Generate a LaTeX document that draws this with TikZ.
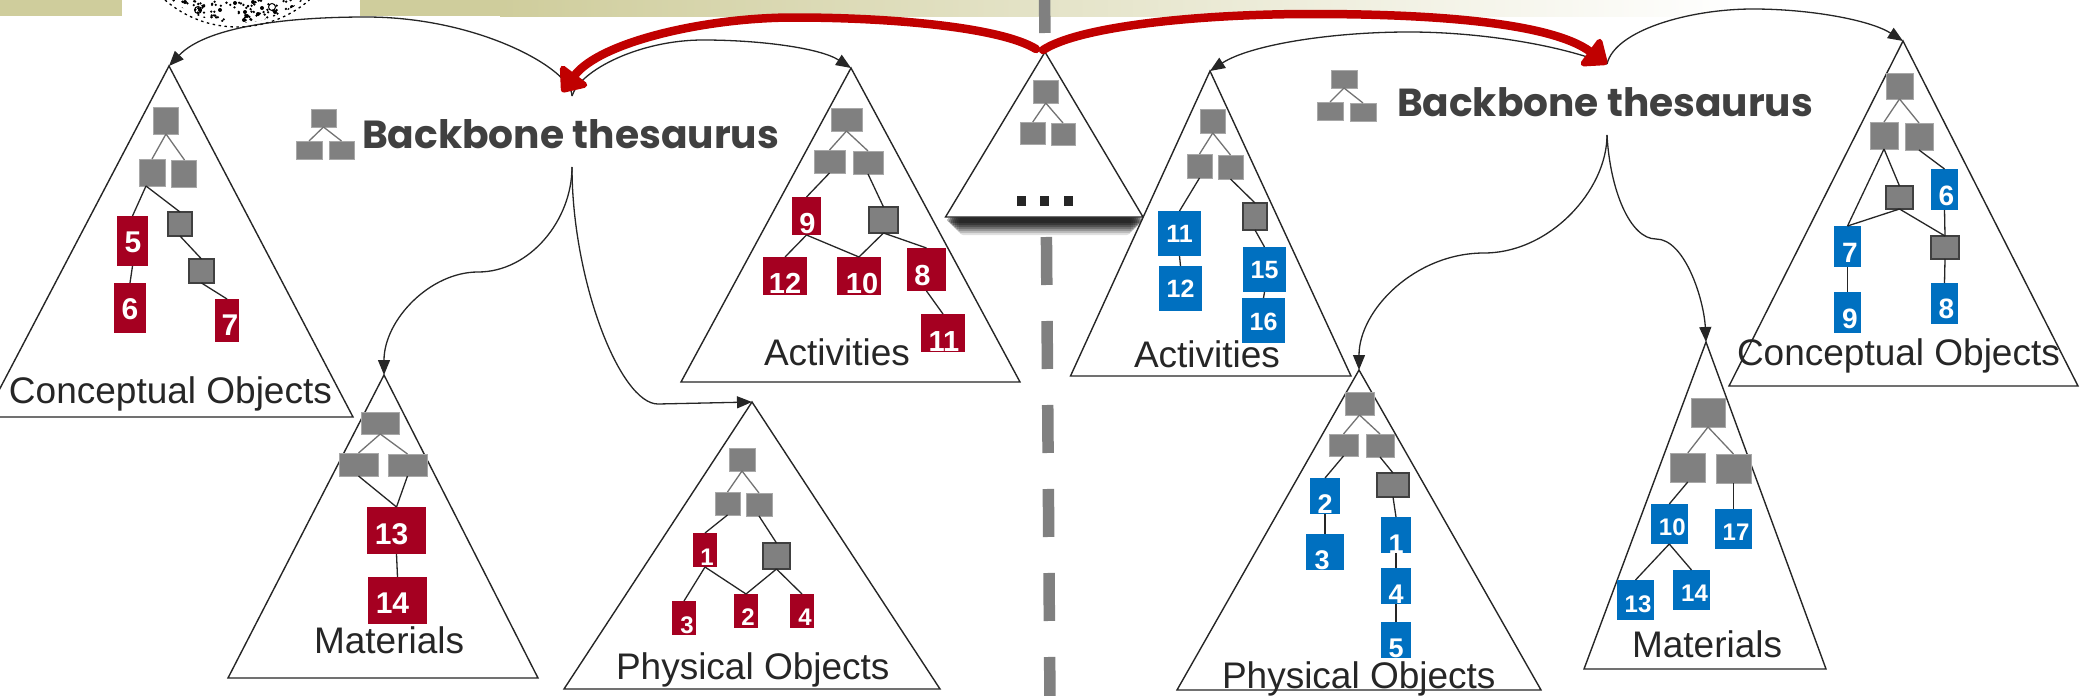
\documentclass[tikz,border=0pt]{standalone}
\usepackage{fontspec}
\setmainfont{Liberation Sans}
\newfontfamily\bbfont{Poppins}
\usetikzlibrary{arrows.meta,calc}
\definecolor{bandc}{HTML}{CFCD9C}
\definecolor{inkc}{HTML}{262626}
\definecolor{greyc}{HTML}{808080}
\definecolor{greyl}{HTML}{A8A8A8}
\definecolor{darkb}{HTML}{404040}
\definecolor{redb}{HTML}{A50021}
\definecolor{blueb}{HTML}{0070C0}
\definecolor{arrred}{HTML}{C00000}
\tikzset{
  tri/.style={draw=inkc,line width=1.4pt,fill=white,line join=miter},
  gbox/.style={fill=greyc,draw=greyl,line width=.6pt,inner sep=0pt,outer sep=0pt},
  dbox/.style={fill=greyc,draw=darkb,line width=1.4pt,inner sep=0pt,outer sep=0pt},
  rbox/.style={fill=redb,inner sep=0pt,outer sep=0pt,text=white},
  bbox/.style={fill=blueb,inner sep=0pt,outer sep=0pt,text=white},
  glink/.style={draw=greyc!90!black,line width=1.3pt},
  blink/.style={draw=inkc,line width=1.3pt},
  arr/.style={draw=inkc,line width=1.3pt,-{Triangle[length=15pt,width=12pt,fill=inkc]}},
  redarr/.style={draw=arrred,line width=8.5pt,line cap=round,-{Triangle[length=24pt,width=38pt,fill=arrred,round=false]}},
  lbl/.style={anchor=base west,inner sep=0pt,outer sep=0pt,text=inkc,font=\fontsize{37}{37}\selectfont},
  bbt/.style={anchor=base west,inner sep=0pt,outer sep=0pt,text=darkb}
}
\newcommand{\bxn}[7]{\pgfmathsetmacro\cxx{(#3+#5)/2}\pgfmathsetmacro\cyy{(#4+#6)/2}\pgfmathsetmacro\wdd{#5-#3}\pgfmathsetmacro\htt{#6-#4}\node[#1,minimum width=\wdd pt,minimum height=\htt pt] (#2) at (\cxx,\cyy) {#7};}
\newcommand{\dg}[4]{\makebox[0pt]{\hspace*{\dimexpr 2\dimexpr #2pt\relax\relax}\smash{\raisebox{#3pt}{\fontsize{#1}{#1}\selectfont\bfseries #4}}}}
\begin{document}
\begin{tikzpicture}[x=1pt,y=-1pt]
\useasboundingbox (0,0) rectangle (2080,696);
% band
\fill[bandc] (0,0) rectangle (122,16);
\fill[bandc] (360,0) rectangle (501,16);
\shade[left color=bandc,right color=white] (500,0) rectangle (1740,16);
% emblem
\draw[black,line width=1.3pt,dash pattern=on 2.5pt off 3.5pt] (165,0) arc[start angle=131,end angle=49,radius=110];
\begin{scope}
\clip (237,-83) circle[radius=106];
\pgfmathsetseed{11}
\foreach \en in {1,...,110}{
  \pgfmathsetmacro\ex{172+rnd*130}
  \pgfmathsetmacro\ey{rnd*25}
  \fill[black] (\ex,\ey) circle[radius=1.3];
}
\foreach \ex/\ey in {185/2,200/10,220/10,235/3,245/12,258/14,244/20,256/23,275/12,292/7,262/22,247/16,262/8,253/2}{
  \fill[black] (\ex,\ey) circle[radius=2];
}
\end{scope}
\draw[black,line width=1pt] (272,7) circle[radius=3.5];
\draw[black,line width=1pt] (198,10) circle[radius=3.5];
% dashed divider
\coordinate (dva) at (1044.5,-15);
\coordinate (dvb) at (1050,705);
\draw[greyc,line width=11.5pt,dash pattern=on 48pt off 36pt] (dva) -- (dvb);
% central triangle shadow
\foreach \sh/\op in {0/.12,2/.16,4/.2,6/.24,8/.28,10/.3,12/.3}{
  \fill[black,opacity=\op,rounded corners=4pt] (959-\sh,217) rectangle (1131+\sh,235-\sh);
}
% central triangle
\coordinate (t0a) at (1045,52);
\draw[tri,fill=white] (t0a) -- (945.5,217) -- (1143,217) -- cycle;
\bxn{gbox}{c0}{1033.5}{80}{1058}{103}{}
\bxn{gbox}{c1}{1020.5}{122}{1045}{144}{}
\bxn{gbox}{c2}{1051}{123}{1075}{145}{}
\draw[glink] (c0.south) -- (c1.north);
\draw[glink] (c0.south) -- (c2.north);
\fill[inkc] (1017,196) rectangle (1026,206);
\fill[inkc] (1040,196) rectangle (1049,206);
\fill[inkc] (1064,196) rectangle (1073,206);

% ---- T1 Conceptual Objects left
\coordinate (t1a) at (169,66);
\draw[tri] (t1a) -- (-15,417) -- (353,417) -- cycle;
\bxn{gbox}{a0}{153.5}{107}{178.5}{134}{}
\bxn{gbox}{a1}{139}{159}{165}{186}{}
\bxn{gbox}{a2}{171}{160}{196}{187}{}
\bxn{dbox}{a3}{168}{212}{192}{236}{}
\bxn{dbox}{a4}{189}{259}{214}{283}{}
\bxn{rbox}{a5}{117}{216}{148}{266}{\dg{30}{0.5}{-11}{5}}
\bxn{rbox}{a6}{114}{283}{146}{333}{\dg{30}{0}{-11}{6}}
\bxn{rbox}{a7}{215}{299}{239}{342}{\dg{30}{3}{-14.5}{7}}
\draw[glink] (a0.south) -- (a1.north);
\draw[glink] (a0.south) -- ([xshift=1pt]a2.north);
\draw[blink] ([xshift=-6pt]a1.south) -- (a5.north);
\draw[blink] ([xshift=-6pt]a1.south) -- (a3.north);
\draw[blink] (a5.south) -- (a6.north);
\draw[blink] (a3.south) -- (a4.north);
\draw[blink] (a4.south) -- (a7.north);
\node[lbl] (la) at (9,403) {Conceptual Objects};

% ---- T2 Materials left
\coordinate (t2a) at (384,375);
\draw[tri] (t2a) -- (228,678) -- (538,678) -- cycle;
\bxn{gbox}{b0}{361}{412}{399.5}{434}{}
\bxn{gbox}{b1}{339}{453}{378}{476}{}
\bxn{gbox}{b2}{388}{454}{427}{476}{}
\bxn{rbox}{b3}{367}{507}{426}{554}{\dg{30}{-5}{-13.5}{13}}
\bxn{rbox}{b4}{368}{577}{427}{624}{\dg{30}{-5}{-12.5}{14}}
\draw[glink] (b0.south) -- (b1.north);
\draw[glink] (b0.south) -- (b2.north);
\draw[blink] (b1.south) -- (b3.north);
\draw[blink] (b2.south) -- (b3.north);
\draw[blink] (b3.south) -- (b4.north);
\node[lbl] (lb) at (314,653) {Materials};

% ---- T3 Activities left
\coordinate (t3a) at (851,68);
\draw[tri] (t3a) -- (681,382) -- (1020,382) -- cycle;
\bxn{gbox}{d0}{831}{108}{862}{131}{}
\bxn{gbox}{d1}{814}{150}{845}{173}{}
\bxn{gbox}{d2}{853}{151}{883}{174}{}
\bxn{rbox}{d3}{792}{197}{821}{235}{\dg{29}{1}{-17}{9}}
\bxn{dbox}{d4}{869}{207}{898}{233}{}
\bxn{rbox}{d5}{763}{257}{807}{295}{\dg{29}{0}{-17}{12}}
\bxn{rbox}{d6}{837}{257}{881}{295}{\dg{29}{3}{-17}{10}}
\bxn{rbox}{d7}{907}{248}{946}{291}{\dg{29}{-4}{-15.5}{8}}
\bxn{rbox}{d8}{921}{314}{965}{352}{\dg{29}{1}{-18.5}{11}}
\draw[glink] (d0.south) -- (d1.north);
\draw[glink] (d0.south) -- (d2.north);
\draw[blink] (d1.south) -- (d3.north);
\draw[blink] (d2.south) -- (d4.north);
\draw[blink] (d3.south) -- (d5.north);
\draw[blink] (d3.south) -- (d6.north);
\draw[blink] (d4.south) -- (d6.north);
\draw[blink] (d4.south) -- (d7.north);
\draw[blink] (d7.south) -- (d8.north);
\node[lbl] (ld) at (764,365) {Activities};

% ---- T4 Activities right
\coordinate (t4a) at (1210,71);
\draw[tri] (t4a) -- (1070.5,376) -- (1351,376) -- cycle;
\bxn{gbox}{e0}{1200}{109}{1225.5}{133}{}
\bxn{gbox}{e1}{1187}{154}{1212}{178}{}
\bxn{gbox}{e2}{1218}{155}{1243}{179}{}
\bxn{bbox}{e3}{1158}{211}{1201}{256}{\dg{25}{0}{-8.5}{11}}
\bxn{bbox}{e4}{1159}{266}{1202}{311}{\dg{25}{0}{-8.5}{12}}
\bxn{dbox}{e5}{1243}{203}{1267}{230}{}
\bxn{bbox}{e6}{1243}{247}{1286}{292}{\dg{25}{0}{-9}{15}}
\bxn{bbox}{e7}{1242}{298}{1285}{343}{\dg{25}{0}{-9.5}{16}}
\draw[glink] (e0.south) -- (e1.north);
\draw[glink] (e0.south) -- (e2.north);
\draw[blink] (e1.south) -- (e3.north);
\draw[blink] (e2.south) -- (e5.north);
\draw[blink] (e3.south) -- (e4.north);
\draw[blink] (e5.south) -- (e6.north);
\draw[blink] (e6.south) -- (e7.north);
\node[lbl] (le) at (1134,367) {Activities};

% ---- T5 Physical Objects left
\coordinate (t5a) at (752,402);
\draw[tri] (t5a) -- (564,689) -- (940,689) -- cycle;
\bxn{gbox}{f0}{729}{448}{755}{471}{}
\bxn{gbox}{f1}{715}{492}{740}{515}{}
\bxn{gbox}{f2}{746}{493}{772}{516}{}
\bxn{rbox}{f3}{693}{533}{717}{567}{\dg{24}{2}{-15}{1}}
\bxn{dbox}{f4}{763}{543}{790}{569}{}
\bxn{rbox}{f5}{734}{594}{758}{628}{\dg{24}{2}{-14}{2}}
\bxn{rbox}{f6}{672}{601}{696}{635}{\dg{24}{3}{-15}{3}}
\bxn{rbox}{f7}{790}{594}{814}{628}{\dg{24}{3}{-14}{4}}
\draw[glink] (f0.south) -- (f1.north);
\draw[glink] (f0.south) -- (f2.north);
\draw[blink] (f1.south) -- (f3.north);
\draw[blink] (f2.south) -- (f4.north);
\draw[blink] (f3.south) -- (f6.north);
\draw[blink] (f3.south) -- (f5.north);
\draw[blink] (f4.south) -- (f5.north);
\draw[blink] (f4.south) -- (f7.north);
\node[lbl] (lf) at (616,679) {Physical Objects};

% ---- T6 Physical Objects right
\coordinate (t6a) at (1359,370);
\draw[tri] (t6a) -- (1177,690) -- (1541,690) -- cycle;
\bxn{gbox}{g0}{1345}{392}{1374}{415}{}
\bxn{gbox}{g1}{1329}{434}{1358}{456}{}
\bxn{gbox}{g2}{1366}{434}{1394}{457}{}
\bxn{dbox}{g3}{1377}{473}{1409}{497}{}
\bxn{bbox}{g4}{1310}{478}{1340}{514}{\dg{27}{0}{-17}{2}}
\bxn{bbox}{g5}{1306}{534}{1344}{570}{\dg{27}{-3}{-17}{3}}
\bxn{bbox}{g6}{1381}{517}{1411}{553}{\dg{27}{0}{-18}{1}}
\bxn{bbox}{g7}{1381}{568}{1411}{604}{\dg{27}{0}{-17}{4}}
\bxn{bbox}{g8}{1381}{622}{1411}{658}{\dg{27}{0}{-17}{5}}
\draw[glink] (g0.south) -- (g1.north);
\draw[glink] (g0.south) -- (g2.north);
\draw[blink] (g1.south) -- (g4.north);
\draw[blink] (g2.south) -- (g3.north);
\draw[blink] (g3.south) -- (g6.north);
\draw[blink] (g4.south) -- (g5.north);
\draw[blink] (g6.south) -- (g7.north);
\draw[blink] (g7.south) -- (g8.north);
\node[lbl] (lg) at (1222,688) {Physical Objects};

% ---- T7 Materials right
\coordinate (t7a) at (1706,342);
\draw[tri] (t7a) -- (1584,669) -- (1826,669) -- cycle;
\bxn{gbox}{h0}{1691}{398}{1725}{427}{}
\bxn{gbox}{h1}{1670.5}{453}{1705}{482}{}
\bxn{gbox}{h2}{1716}{454}{1751}{483}{}
\bxn{bbox}{h3}{1651}{504}{1687.5}{544}{\dg{24}{3}{-11}{10}}
\bxn{bbox}{h4}{1715}{509}{1752}{549}{\dg{24}{2.5}{-11}{17}}
\bxn{bbox}{h5}{1617}{580}{1654}{620}{\dg{24}{2.5}{-12}{13}}
\bxn{bbox}{h6}{1673}{570}{1710}{610}{\dg{24}{3}{-11}{14}}
\draw[glink] (h0.south) -- (h1.north);
\draw[glink] (h0.south) -- (h2.north);
\draw[blink] (h1.south) -- (h3.north);
\draw[blink] (h2.south) -- (h4.north);
\draw[blink] (h3.south) -- (h5.north);
\draw[blink] (h3.south) -- (h6.north);
\node[lbl] (lh) at (1632,657) {Materials};

% ---- T8 Conceptual Objects right
\coordinate (t8a) at (1903,41);
\draw[tri] (t8a) -- (1729,386) -- (2078,386) -- cycle;
\bxn{gbox}{i0}{1886}{73}{1913}{99}{}
\bxn{gbox}{i1}{1870}{122}{1898}{149}{}
\bxn{gbox}{i2}{1905}{123}{1933}{150}{}
\bxn{dbox}{i3}{1886}{186}{1913}{209}{}
\bxn{bbox}{i4}{1931}{169}{1958}{210}{\dg{28}{2}{-15.5}{6}}
\bxn{bbox}{i5}{1834}{226}{1861}{267}{\dg{28}{2.5}{-15.5}{7}}
\bxn{dbox}{i6}{1931}{236}{1959}{259}{}
\bxn{bbox}{i7}{1834}{292}{1861}{333}{\dg{28}{2.5}{-15.5}{9}}
\bxn{bbox}{i8}{1931}{283}{1958}{324}{\dg{28}{2}{-14.5}{8}}
\draw[glink] (i0.south) -- (i1.north);
\draw[glink] (i0.south) -- (i2.north);
\draw[blink] (i1.south) -- (i5.north);
\draw[blink] (i1.south) -- (i3.north);
\draw[blink] (i2.south) -- (i4.north);
\draw[blink] (i3.south) -- (i5.north);
\draw[blink] (i3.south) -- (i6.north);
\draw[blink] (i4.south) -- (i6.north);
\draw[blink] (i5.south) -- (i7.north);
\draw[blink] (i6.south) -- (i8.north);
\node[lbl] (li) at (1737,365) {Conceptual Objects};

% ---- Backbone titles
\bxn{gbox}{j0}{311}{109}{336}{127}{}
\bxn{gbox}{j1}{296}{141}{322}{159}{}
\bxn{gbox}{j2}{329}{141}{354}{159}{}
\draw[glink] (j0.south) -- (j1.north);
\draw[glink] (j0.south) -- (j2.north);
\node[bbt] (bbl) at (362,148) {\resizebox{417pt}{!}{\bbfont\bfseries Backbone thesaurus}};
\bxn{gbox}{k0}{1331}{70}{1357}{88}{}
\bxn{gbox}{k1}{1317}{102}{1343}{120}{}
\bxn{gbox}{k2}{1350}{103}{1376}{121}{}
\draw[glink] (k0.south) -- (k1.north);
\draw[glink] (k0.south) -- (k2.north);
\node[bbt] (bbr) at (1397,116) {\resizebox{416pt}{!}{\bbfont\bfseries Backbone thesaurus}};

% ---- connectors
\coordinate (ltop) at (572,96);
\coordinate (lbot) at (572,167);
\coordinate (rtop) at (1607,64);
\coordinate (rbot) at (1607,135);
\draw[arr] (ltop) .. controls (572,70) and (480,17) .. (366,17) .. controls (280,17) and (205,28) .. (t1a);
\draw[arr] (ltop) .. controls (580,70) and (640,40) .. (703,40) .. controls (760,40) and (820,48) .. (t3a);
\draw[arr] (lbot) .. controls (572,220) and (530,272) .. (478,272) .. controls (430,272) and (384,320) .. (t2a);
\draw[arr] (lbot) .. controls (572,280) and (620,404) .. (658,404) -- (t5a);
\draw[arr] (rtop) .. controls (1560,45) and (1480,32) .. (1409,32) .. controls (1330,32) and (1250,45) .. (t4a);
\draw[arr] (rtop) .. controls (1615,30) and (1690,9) .. (1753,9) .. controls (1810,9) and (1870,20) .. (t8a);
\draw[arr] (rbot) .. controls (1607,190) and (1550,253) .. (1484,253) .. controls (1415,253) and (1359,310) .. (t6a);
\draw[arr] (rbot) .. controls (1610,190) and (1630,239) .. (1656,239) .. controls (1685,239) and (1704,300) .. (t7a);
\coordinate (rl) at (1036,49);
\coordinate (rr) at (1043,50);
\coordinate (hl) at (562,92);
\draw[redarr] (rl) .. controls (1000,27) and (890,17.5) .. (794,17.5) .. controls (705,17.5) and (600,42) .. (hl);
\draw[redarr] (rr) .. controls (1080,26) and (1200,14) .. (1312,14) .. controls (1430,14) and (1550,22) .. (rtop);
\end{tikzpicture}
\end{document}
